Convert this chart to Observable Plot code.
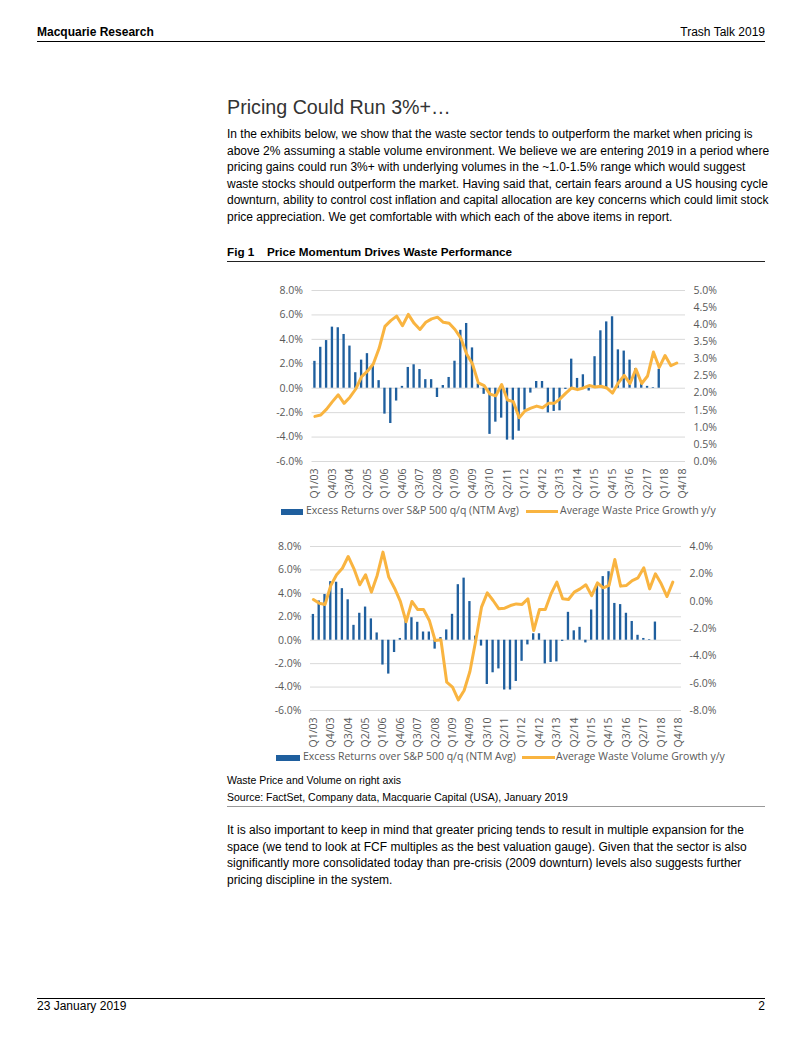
<!DOCTYPE html>
<html><head><meta charset="utf-8">
<script src="https://cdn.jsdelivr.net/npm/d3@7"></script>
<script src="https://cdn.jsdelivr.net/npm/@observablehq/plot@0.6"></script>
<style>
html,body{margin:0;padding:0;background:#fff;}
body{width:802px;height:1037px;position:relative;overflow:hidden;font-family:"Liberation Sans",Arial,sans-serif;color:#000;}
.a{position:absolute;white-space:nowrap;}
.p{font-size:12px;line-height:16.6px;}
.rule{position:absolute;height:0;}
.lg{position:absolute;font-family:"Open Sans",sans-serif;font-size:10.5px;color:#595959;white-space:nowrap;}
.sw{position:absolute;}
</style></head>
<body>
<div class="a" style="left:37px;top:25px;font-size:12px;font-weight:bold;">Macquarie Research</div>
<div class="a" style="right:37px;top:25px;font-size:12px;">Trash Talk 2019</div>
<div class="rule" style="left:37px;width:728px;top:41px;border-top:1px solid #000;"></div>

<div class="a" style="left:227px;top:96px;font-size:19.7px;color:#333;">Pricing Could Run 3%+…</div>
<div class="a p" style="left:227px;top:126px;">In the exhibits below, we show that the waste sector tends to outperform the market when pricing is<br>above 2% assuming a stable volume environment. We believe we are entering 2019 in a period where<br>pricing gains could run 3%+ with underlying volumes in the ~1.0-1.5% range which would suggest<br>waste stocks should outperform the market. Having said that, certain fears around a US housing cycle<br>downturn, ability to control cost inflation and capital allocation are key concerns which could limit stock<br>price appreciation. We get comfortable with which each of the above items in report.</div>

<div class="a" style="left:227px;top:245px;font-size:11.7px;font-weight:bold;">Fig 1</div>
<div class="a" style="left:267px;top:245px;font-size:11.7px;font-weight:bold;">Price Momentum Drives Waste Performance</div>
<div class="rule" style="left:227px;width:538px;top:261px;border-top:1px solid #222;"></div>

<div id="c1" style="position:absolute;left:250px;top:280px;"></div>
<div id="c2" style="position:absolute;left:250px;top:536px;"></div>

<div class="sw" style="left:281px;top:509px;width:22px;height:6px;background:#1f5f9e;"></div>
<div class="lg" style="left:306px;top:503px;">Excess Returns over S&amp;P 500 q/q (NTM Avg)</div>
<div class="sw" style="left:526px;top:510px;width:32px;height:3px;background:#f9b440;"></div>
<div class="lg" style="left:560px;top:503px;">Average Waste Price Growth y/y</div>

<div class="sw" style="left:276px;top:755px;width:24px;height:6px;background:#1f5f9e;"></div>
<div class="lg" style="left:303px;top:749px;">Excess Returns over S&amp;P 500 q/q (NTM Avg)</div>
<div class="sw" style="left:522px;top:756px;width:33px;height:3px;background:#f9b440;"></div>
<div class="lg" style="left:556px;top:749px;">Average Waste Volume Growth y/y</div>

<div class="a" style="left:227px;top:774px;font-size:10.5px;">Waste Price and Volume on right axis</div>
<div class="a" style="left:227px;top:791px;font-size:10.5px;">Source: FactSet, Company data, Macquarie Capital (USA), January 2019</div>
<div class="rule" style="left:227px;width:538px;top:806px;border-top:1px solid #999;"></div>

<div class="a p" style="left:227px;top:822px;">It is also important to keep in mind that greater pricing tends to result in multiple expansion for the<br>space (we tend to look at FCF multiples as the best valuation gauge). Given that the sector is also<br>significantly more consolidated today than pre-crisis (2009 downturn) levels also suggests further<br>pricing discipline in the system.</div>

<div class="rule" style="left:37px;width:728px;top:998px;border-top:1px solid #000;"></div>
<div class="a" style="left:37px;top:999px;font-size:12px;">23 January 2019</div>
<div class="a" style="right:37px;top:999px;font-size:12px;">2</div>

<script>
// Quarters Q1/03 .. Q4/18
const quarters = [];
for (let y = 3; y <= 18; y++) for (let q = 1; q <= 4; q++) quarters.push(`Q${q}/${String(y).padStart(2, "0")}`);
const labeledQuarters = quarters.filter((d, i) => i % 3 === 0);

// Excess returns over S&P 500 q/q (NTM Avg), % (left axis)
const excessReturns = [
  2.2, 3.35, 3.9, 5.0, 4.95, 4.4, 3.45, 1.27, 2.3, 2.83, 1.82, 0.62,
  -2.12, -2.89, -1.05, 0.15, 1.7, 1.92, 1.53, 0.7, 0.7, -0.76, 0.22, 0.88,
  2.21, 4.74, 5.3, 3.3, 0.35, -0.5, -3.78, -2.78, -2.45, -4.25, -4.25, -3.52,
  -1.8, -0.4, 0.55, 0.55, -2.02, -1.9, -1.85, -0.1, 2.38, 0.8, 1.1, -0.23,
  2.58, 4.7, 5.43, 5.85, 3.14, 3.04, 2.3, 1.6, 0.42, 0.15, 0.05, 1.55,
  0, 0, 0, 0
];

// Average waste price growth y/y, % (right axis, chart 1)
const priceGrowth = [
  1.32, 1.36, 1.53, 1.75, 1.95, 1.7, 1.88, 2.12, 2.48, 2.64, 2.85, 3.31,
  3.95, 4.12, 4.25, 3.97, 4.3, 4.04, 3.86, 4.07, 4.17, 4.22, 4.07, 4.04,
  3.86, 3.61, 3.14, 2.85, 2.3, 2.22, 1.97, 1.92, 2.25, 1.8, 1.75, 1.28,
  1.48, 1.56, 1.62, 1.57, 1.7, 1.7, 1.83, 2.0, 2.15, 2.1, 2.15, 2.22,
  2.18, 2.2, 2.15, 2.0, 2.3, 2.52, 2.28, 2.7, 2.28, 2.5, 3.2, 2.75,
  3.1, 2.8, 2.88, null
];

// Average waste volume growth y/y, % (right axis, chart 2)
const volumeGrowth = [
  0.12, -0.15, -0.25, 1.15, 1.93, 2.41, 3.27, 2.37, 1.2, 1.93, 0.66, 1.88,
  3.59, 1.76, 0.95, -0.02, -1.51, -0.02, -0.61, -0.61, -1.41, -2.88, -2.83, -5.93,
  -6.29, -7.22, -6.54, -5.15, -2.9, -0.44, 0.61, 0.05, -0.56, -0.51, -0.32, -0.2,
  -0.24, 0.17, -2.15, -0.61, -0.61, 0.54, 1.39, 0.17, 0.12, 0.66, 0.9, 1.2,
  0.41, 1.34, 0.98, 1.15, 3.05, 1.1, 1.15, 1.51, 1.71, 2.44, 0.9, 2.0,
  1.27, 0.34, 1.39, null
];

const leftTicks = [-6, -4, -2, 0, 2, 4, 6, 8];
const rightTicks1 = [0, 0.5, 1, 1.5, 2, 2.5, 3, 3.5, 4, 4.5, 5];
const rightTicks2 = [-8, -6, -4, -2, 0, 2, 4];

const BLUE = "#1f5f9e", ORANGE = "#f9b440", GRID = "#d9d9d9";
const pct = v => (Math.round(v * 10) / 10).toFixed(1) + "%";

function chart({line, rightDomain, rightTicks, width, height, marginLeft, marginRight}) {
  const [r0, r1] = rightDomain;
  const toLeft = v => -6 + (v - r0) / (r1 - r0) * 14;
  const toRight = l => r0 + (l + 6) / 14 * (r1 - r0);
  const data = quarters.map((q, i) => ({q, ret: excessReturns[i], v: line[i] == null ? NaN : toLeft(line[i])}));
  return Plot.plot({
    width, height, marginLeft, marginRight, marginTop: 10, marginBottom: 40,
    style: {fontFamily: "'Open Sans', sans-serif", fontSize: "10.5px", color: "#595959", background: "white"},
    x: {type: "band", domain: quarters, paddingInner: 0.6, paddingOuter: 0.3, axis: null},
    y: {domain: [-6, 8], axis: null},
    marks: [
      Plot.gridY(leftTicks, {stroke: GRID, strokeOpacity: 1}),
      Plot.barY(data, {x: "q", y: "ret", fill: BLUE}),
      Plot.line(data, {x: "q", y: "v", stroke: ORANGE, strokeWidth: 3, curve: "linear"}),
      Plot.axisY({ticks: leftTicks, tickFormat: pct, tickSize: 0, tickPadding: 9, label: null}),
      Plot.axisY({anchor: "right", ticks: rightTicks.map(toLeft), tickFormat: d => pct(toRight(d)), tickSize: 0, tickPadding: 8, label: null}),
      Plot.axisX({ticks: labeledQuarters, tickRotate: -90, tickSize: 0, tickPadding: 7, label: null})
    ]
  });
}

document.getElementById("c1").append(chart({line: priceGrowth, rightDomain: [0, 5], rightTicks: rightTicks1, width: 480, height: 221, marginLeft: 61.5, marginRight: 45}));
document.getElementById("c2").append(chart({line: volumeGrowth, rightDomain: [-8, 4], rightTicks: rightTicks2, width: 480, height: 214, marginLeft: 60, marginRight: 49}));
</script>
</body></html>
